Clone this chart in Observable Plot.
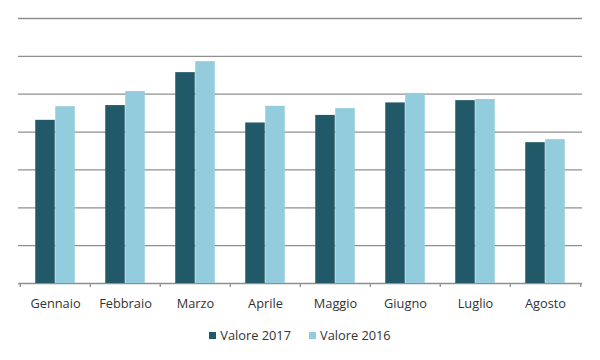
<!DOCTYPE html>
<html>
<head>
<meta charset="utf-8">
<script src="https://cdn.jsdelivr.net/npm/d3@7"></script>
<script src="https://cdn.jsdelivr.net/npm/@observablehq/plot@0.6"></script>
<style>
  html, body { margin: 0; padding: 0; background: #fff; }
  #chart { width: 600px; height: 360px; }
  .legend { display: flex; justify-content: center; align-items: center; margin-top: 7px; height: 16px;
    font-family: "Open Sans", sans-serif; font-size: 12.8px; color: #333; }
  .legend .item { display: flex; align-items: center; }
  .legend .sw { width: 7px; height: 7px; margin-right: 4px; }
  .legend .item + .item { margin-left: 18px; }
</style>
</head>
<body>
<div id="chart"></div>
<script>
const months = ["Gennaio", "Febbraio", "Marzo", "Aprile", "Maggio", "Giugno", "Luglio", "Agosto"];
const valore2017 = [4.31, 4.70, 5.57, 4.24, 4.44, 4.77, 4.83, 3.72];
const valore2016 = [4.67, 5.07, 5.86, 4.68, 4.62, 5.02, 4.86, 3.80];
const seriesNames = ["Valore 2017", "Valore 2016"];
const seriesColors = ["#215968", "#93cddd"];
const gridValues = [0, 1, 2, 3, 4, 5, 6, 7];

const rows2017 = months.map((m, i) => ({month: m, value: valore2017[i]}));
const rows2016 = months.map((m, i) => ({month: m, value: valore2016[i]}));

const W = 600, H = 320, mL = 18, mR = 18;
const half = (W - mL - mR) / months.length / 2;
const barW = 20;

const plot = Plot.plot({
  width: W,
  height: H,
  marginTop: 18,
  marginBottom: 37,
  marginLeft: mL,
  marginRight: mR,
  style: {fontFamily: "Open Sans, sans-serif", fontSize: "12.8px", color: "#333", background: "#fff"},
  x: {domain: months, padding: 0, tickSize: 0, tickPadding: 15, label: null},
  y: {domain: [0, 7], axis: null},
  marks: [
    Plot.ruleY(gridValues, {y: d => d, stroke: "#8f8f8f", strokeWidth: 1.3}),
    Plot.barY(rows2017, {x: "month", y: "value", fill: seriesColors[0],
      insetLeft: half - barW, insetRight: half}),
    Plot.barY(rows2016, {x: "month", y: "value", fill: seriesColors[1],
      insetLeft: half, insetRight: half - barW}),
    Plot.ruleX(months, {x: d => d, dx: -half, y1: 0, y2: 0, insetTop: 0, insetBottom: -4,
      stroke: "#8f8f8f", strokeWidth: 1.3}),
    Plot.ruleX([months[months.length - 1]], {x: d => d, dx: half, y1: 0, y2: 0, insetTop: 0, insetBottom: -4,
      stroke: "#8f8f8f", strokeWidth: 1.3})
  ]
});

const chart = document.getElementById("chart");
chart.appendChild(plot);

const legend = document.createElement("div");
legend.className = "legend";
seriesNames.forEach((name, i) => {
  const item = document.createElement("div");
  item.className = "item";
  const sw = document.createElement("span");
  sw.className = "sw";
  sw.style.background = seriesColors[i];
  const label = document.createElement("span");
  label.textContent = name;
  item.appendChild(sw);
  item.appendChild(label);
  legend.appendChild(item);
});
chart.appendChild(legend);
</script>
</body>
</html>
